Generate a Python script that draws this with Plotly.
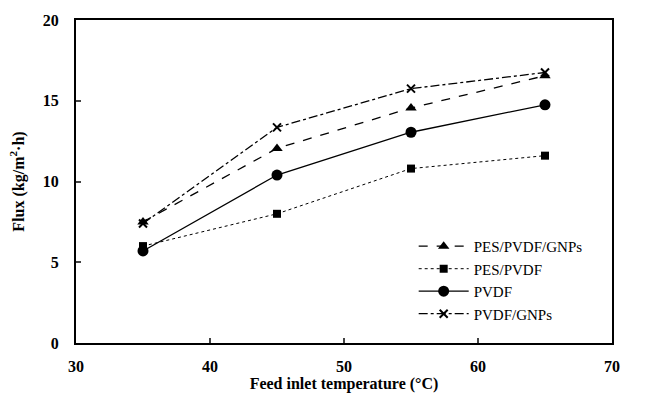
import plotly.graph_objects as go

temps = [35, 45, 55, 65]
pes_pvdf_gnps = [7.5, 12.05, 14.55, 16.55]
pes_pvdf = [6.0, 8.0, 10.8, 11.6]
pvdf = [5.7, 10.4, 13.05, 14.75]
pvdf_gnps = [7.4, 13.35, 15.75, 16.75]

series = [
    ("PES/PVDF/GNPs", pes_pvdf_gnps, "dash", "triangle-up", 10),
    ("PES/PVDF", pes_pvdf, "dot", "square", 8),
    ("PVDF", pvdf, "solid", "circle", 11),
    ("PVDF/GNPs", pvdf_gnps, "dashdot", "x-thin", 8),
]

fig = go.Figure()
for name, vals, dash, sym, size in series:
    fig.add_trace(go.Scatter(
        x=temps, y=vals, name=name, mode="lines+markers",
        line=dict(color="black", width=1.3 if dash != "dot" else 1, dash=dash),
        marker=dict(symbol=sym, size=size, color="black",
                    line=dict(color="black", width=2 if sym == "x-thin" else 0)),
    ))

font = "Liberation Serif"
fig.update_layout(
    width=652, height=396,
    margin=dict(l=76, r=40, t=20, b=53),
    plot_bgcolor="white", paper_bgcolor="white",
    font=dict(family=font, color="black", size=15),
    showlegend=True,
    legend=dict(x=0.63, y=0.35, xanchor="left", yanchor="top",
                bgcolor="rgba(0,0,0,0)", font=dict(size=15, family=font),
                itemwidth=50, tracegroupgap=0),
    xaxis=dict(range=[30, 70], dtick=10, ticks="inside", ticklen=5, tickwidth=2,
               showline=True, linewidth=2, linecolor="black", mirror=True,
               showgrid=False, zeroline=False, ticklabelstandoff=8,
               automargin=False,
               tickfont=dict(size=16, family=font, weight="bold"),
               title=dict(text="Feed inlet temperature (°C)",
                          font=dict(size=16, family=font, weight="bold"), standoff=4)),
    yaxis=dict(range=[0, 20], dtick=5, ticks="inside", ticklen=5, tickwidth=2,
               showline=True, linewidth=2, linecolor="black", mirror=True,
               showgrid=False, zeroline=False, ticklabelstandoff=12,
               automargin=False,
               tickfont=dict(size=16, family=font, weight="bold"),
               title=dict(text="Flux (kg/m<sup>2</sup>·h)",
                          font=dict(size=16, family=font, weight="bold"), standoff=14)),
)
fig.write_html("out.html")
